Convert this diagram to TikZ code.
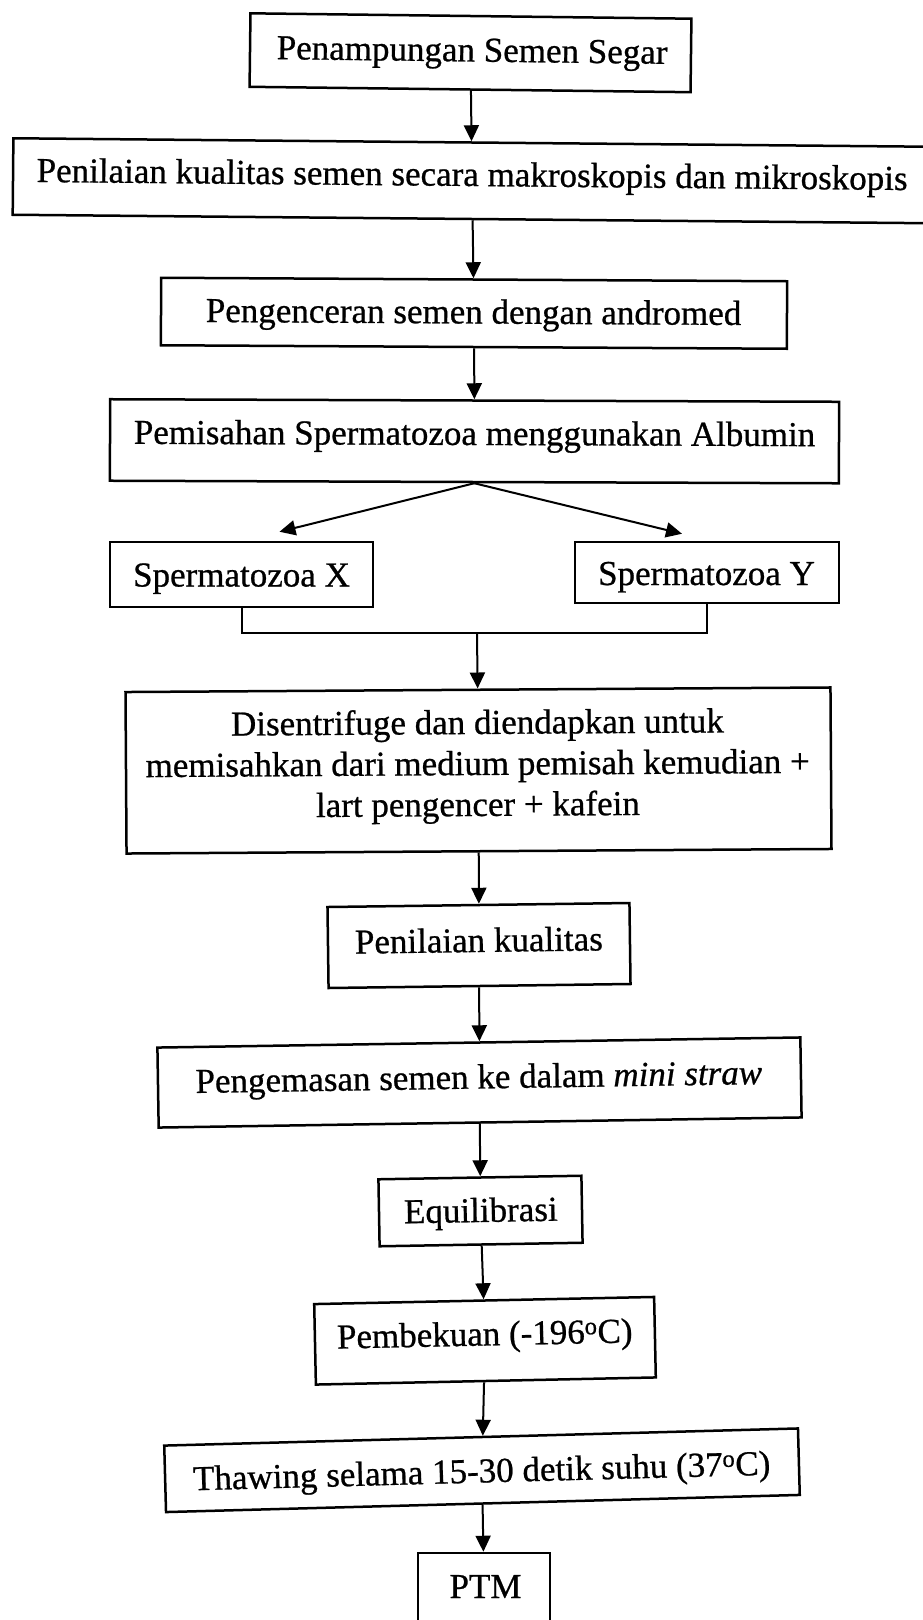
\documentclass[tikz,border=0pt]{standalone}
\usepackage{fontspec}
\setmainfont{Liberation Serif}[FakeBold=0.7]
\usetikzlibrary{arrows.meta}
\begin{document}
\begin{tikzpicture}[x=1pt,y=-1pt,
  box/.style={draw, line width=2.5pt, inner sep=0pt},
  lbl/.style={font=\fontsize{35}{41}\selectfont, inner sep=0pt, anchor=base, align=center},
  arr/.style={line width=2pt, -{Triangle[width=15pt,length=16pt]}},
  conn/.style={line width=2pt}]
\useasboundingbox (0,0) rectangle (922,1620);
\fill[white] (0,0) rectangle (922,1620);

% boxes
\node[box, minimum width=441pt, minimum height=73.5pt, rotate=-0.7] (b1) at (470.5,52.75) {};
\node[box, minimum width=918pt, minimum height=76.5pt, rotate=-0.53] (b2) at (472,180.75) {};
\node[box, minimum width=626pt, minimum height=67.5pt, rotate=-0.32] (b3) at (474,313.25) {};
\node[box, minimum width=729pt, minimum height=81.5pt, rotate=-0.2] (b4) at (474.5,441.25) {};
\node[box, minimum width=263pt, minimum height=65pt] (bX) at (241.5,574.5) {};
\node[box, minimum width=264pt, minimum height=61pt] (bY) at (707,572.5) {};
\node[box, minimum width=705pt, minimum height=161.5pt, rotate=0.37] (b5) at (478.5,770.5) {};
\node[box, minimum width=302pt, minimum height=81pt, rotate=0.76] (b6) at (479,945.5) {};
\node[box, minimum width=643pt, minimum height=80pt, rotate=0.9] (b7) at (479.5,1082.5) {};
\node[box, minimum width=203pt, minimum height=67pt, rotate=1.0] (b8) at (480.5,1211) {};
\node[box, minimum width=340pt, minimum height=80.5pt, rotate=1.2] (b9) at (485,1340.75) {};
\node[box, minimum width=634pt, minimum height=66.5pt, rotate=1.55] (b10) at (482,1470.25) {};
\node[box, minimum width=132pt, minimum height=70pt] (bP) at (484,1588) {};

% texts
\node[lbl, rotate=-0.7] (t1) at (472,61.5) {Penampungan Semen Segar};
\node[lbl, rotate=-0.53] (t2) at (472,186) {Penilaian kualitas semen secara makroskopis dan mikroskopis};
\node[lbl, rotate=-0.32] (t3) at (473.5,323.5) {Pengenceran semen dengan andromed};
\node[lbl, rotate=-0.2] (t4) at (474.5,445) {Pemisahan Spermatozoa menggunakan Albumin};
\node[lbl] (tX) at (241.5,586.5) {Spermatozoa X};
\node[lbl] (tY) at (706.5,585) {Spermatozoa Y};
\node[lbl, rotate=0.37] (t5) at (478,816) {Disentrifuge dan diendapkan untuk\\memisahkan dari medium pemisah kemudian +\\lart pengencer + kafein};
\node[lbl, rotate=0.76] (t6) at (479,952) {Penilaian kualitas};
\node[lbl, rotate=0.9] (t7) at (479,1088.5) {Pengemasan semen ke dalam \textit{mini straw}};
\node[lbl, rotate=1.0] (t8) at (481,1222) {Equilibrasi};
\node[lbl, rotate=1.2] (t9) at (485,1345.5) {Pembekuan (-196\textsuperscript{o}C)};
\node[lbl, rotate=1.55] (t10) at (482,1482.5) {Thawing selama 15-30 detik suhu (37\textsuperscript{o}C)};
\node[lbl] (tP) at (485.5,1598) {PTM};

% connectors
\draw[arr] (b1) -- (b2);
\draw[arr] (b2) -- (b3);
\draw[arr] (b3) -- (b4);
\draw[arr] (b4.south) -- ([xshift=38pt,yshift=9pt]bX.north);
\draw[arr] (b4.south) -- ([xshift=-25pt,yshift=7pt]bY.north);
\coordinate (jn) at (477,633);
\draw[conn] (bX.south) |- (jn) -| (bY.south);
\draw[arr] (jn) -- (b5);
\draw[arr] (b5) -- (b6);
\draw[arr] (b6) -- (b7);
\draw[arr] (b7) -- (b8);
\draw[arr] (b8) -- (b9);
\draw[arr] (b9) -- (b10);
\draw[arr] (b10) -- (bP);
\end{tikzpicture}
\end{document}
